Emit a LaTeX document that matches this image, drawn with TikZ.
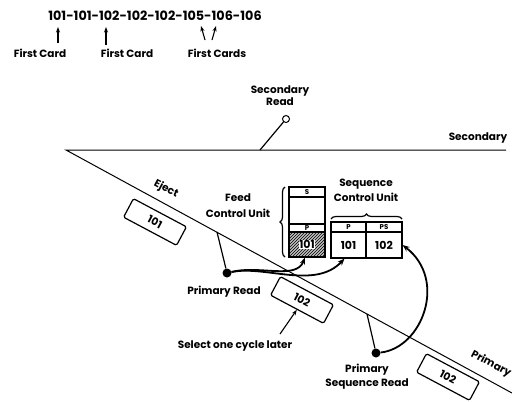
\documentclass[tikz,border=0pt]{standalone}
\usepackage{fontspec}
\setmainfont{Poppins}
\usetikzlibrary{arrows.meta,decorations.pathreplacing,patterns}
\tikzset{
  lbl/.style={font=\fontsize{10.5}{12}\selectfont\bfseries, align=center, inner sep=0pt},
  seqtxt/.style={font=\fontsize{12.8}{14}\selectfont\bfseries, inner sep=0pt},
  card/.style={draw, line width=1.2pt, rounded corners=1.5pt, minimum width=60pt, minimum height=21pt,
    inner sep=0pt, rotate=-28, font=\fontsize{10.5}{11}\selectfont\bfseries},
  rail/.style={line width=1pt},
  flow/.style={line width=1.8pt, -{Stealth[length=7pt,width=5.5pt]}},
  pick/.style={line width=1.1pt, -{Stealth[length=5.5pt,width=4pt]}},
  feeler/.style={line width=1.2pt},
  brush/.style={line width=1.2pt, decorate, decoration={brace, amplitude=5pt}},
  readdot/.style={circle, fill, inner sep=0pt, minimum size=9pt},
  readring/.style={circle, draw, fill=white, line width=1pt, inner sep=0pt, minimum size=7pt},
  cell/.style={draw, line width=1.2pt, inner sep=0pt, minimum width=36pt},
  cellhd/.style={cell, font=\fontsize{7}{7}\selectfont\bfseries},
  cellnum/.style={cell, font=\fontsize{11}{11}\selectfont\bfseries},
}
\begin{document}
\begin{tikzpicture}[x=1pt, y=-1pt]
\useasboundingbox (0,0) rectangle (512,402);
% card sequence
\node[seqtxt] (seq) at (155,16) {101-101-102-102-102-105-106-106};
\coordinate (d1) at (58,27);   \coordinate (f1) at (58,43);
\coordinate (d2) at (106,27);  \coordinate (f2) at (106,45);
\coordinate (d3) at (201,26);  \coordinate (f3) at (205,40);
\coordinate (d4) at (216,26);  \coordinate (f4) at (212,40);
\draw[pick] (f1) -- (d1);
\draw[pick] (f2) -- (d2);
\draw[pick] (f3) -- (d3);
\draw[pick] (f4) -- (d4);
\node[lbl] (first1) at (40,53) {First Card};
\node[lbl] (first2) at (127,53) {First Card};
\node[lbl] (first3) at (217,53) {First Cards};
% card path
\coordinate (apex) at (66,150);
\coordinate (secend) at (506,150);
\coordinate (primend) at (512,393);
\draw[rail] (secend) -- (apex) -- (primend);
\node[lbl] (seclbl) at (478,138) {Secondary};
\node[lbl, rotate=-28] (ejectlbl) at (166,189) {Eject};
\node[lbl, rotate=-28] (primlbl) at (491,364) {Primary};
% cards
\node[card] (c101) at (155,222) {101};
\node[card] (c102a) at (302,300) {102};
\node[card] (c102b) at (448,377) {102};
% secondary read
\node[readring] (srd) at (286,119) {};
\coordinate (srtouch) at (260,150);
\draw[feeler] (srtouch) -- (srd);
\node[lbl] (srlbl) at (280,96) {Secondary\\[0pt]Read};
% feed control unit
\node[cellhd, minimum height=10pt] (fs) at (307,192) {S};
\node[cell, minimum height=27pt] (fe) at (307,210.5) {};
\node[cellhd, minimum height=8pt] (fp) at (307,228) {P};
\node[cell, minimum height=25pt, fill=black!25, postaction={pattern=north east lines}] (fv) at (307,244.5) {};
\node[font=\fontsize{11}{11}\selectfont\bfseries, fill=white, inner sep=0.6pt] (fvtxt) at (fv) {101};
\draw[brush] (285,257) -- (285,187);
\node[lbl] (fculbl) at (238,206) {Feed\\[4pt]Control Unit};
% sequence control unit
\node[cellhd, minimum width=35pt, minimum height=10pt] (sph) at (348.5,227) {P};
\node[cellhd, minimum height=10pt] (spsh) at (384,227) {PS};
\node[cellnum, minimum width=35pt, minimum height=26pt] (sp) at (348.5,245) {101};
\node[cellnum, minimum height=26pt] (sps) at (384,245) {102};
\draw[line width=1.6pt] (sph.north west) rectangle (sps.south east);
\draw[brush] (331,219) -- (402,219);
\node[lbl] (sculbl) at (366,190.5) {Sequence\\[3pt]Control Unit};
% primary read
\coordinate (prtouch) at (217,232);
\node[readdot] (prd) at (227,273) {};
\draw[feeler] (prtouch) -- (prd);
\node[lbl] (prlbl) at (224,292) {Primary Read};
\draw[flow] (prd) .. controls (260,265) and (296,280) .. ([xshift=-2pt]fv.south);
\draw[flow] (prd) .. controls (265,265) and (315,290) .. ([xshift=-4pt]sp.south);
% primary sequence read
\coordinate (pstouch) at (367,314);
\node[readdot] (psd) at (376,353) {};
\draw[feeler] (pstouch) -- (psd);
\node[lbl] (pslbl) at (367,377) {Primary\\[2pt]Sequence Read};
\draw[flow] (psd) .. controls (422,348) and (448,280) .. (sps.east);
% select
\coordinate (selfoot) at (280,334);
\draw[pick] (selfoot) -- (c102a.south);
\node[lbl] (sellbl) at (235,346) {Select one cycle later};
\end{tikzpicture}
\end{document}
